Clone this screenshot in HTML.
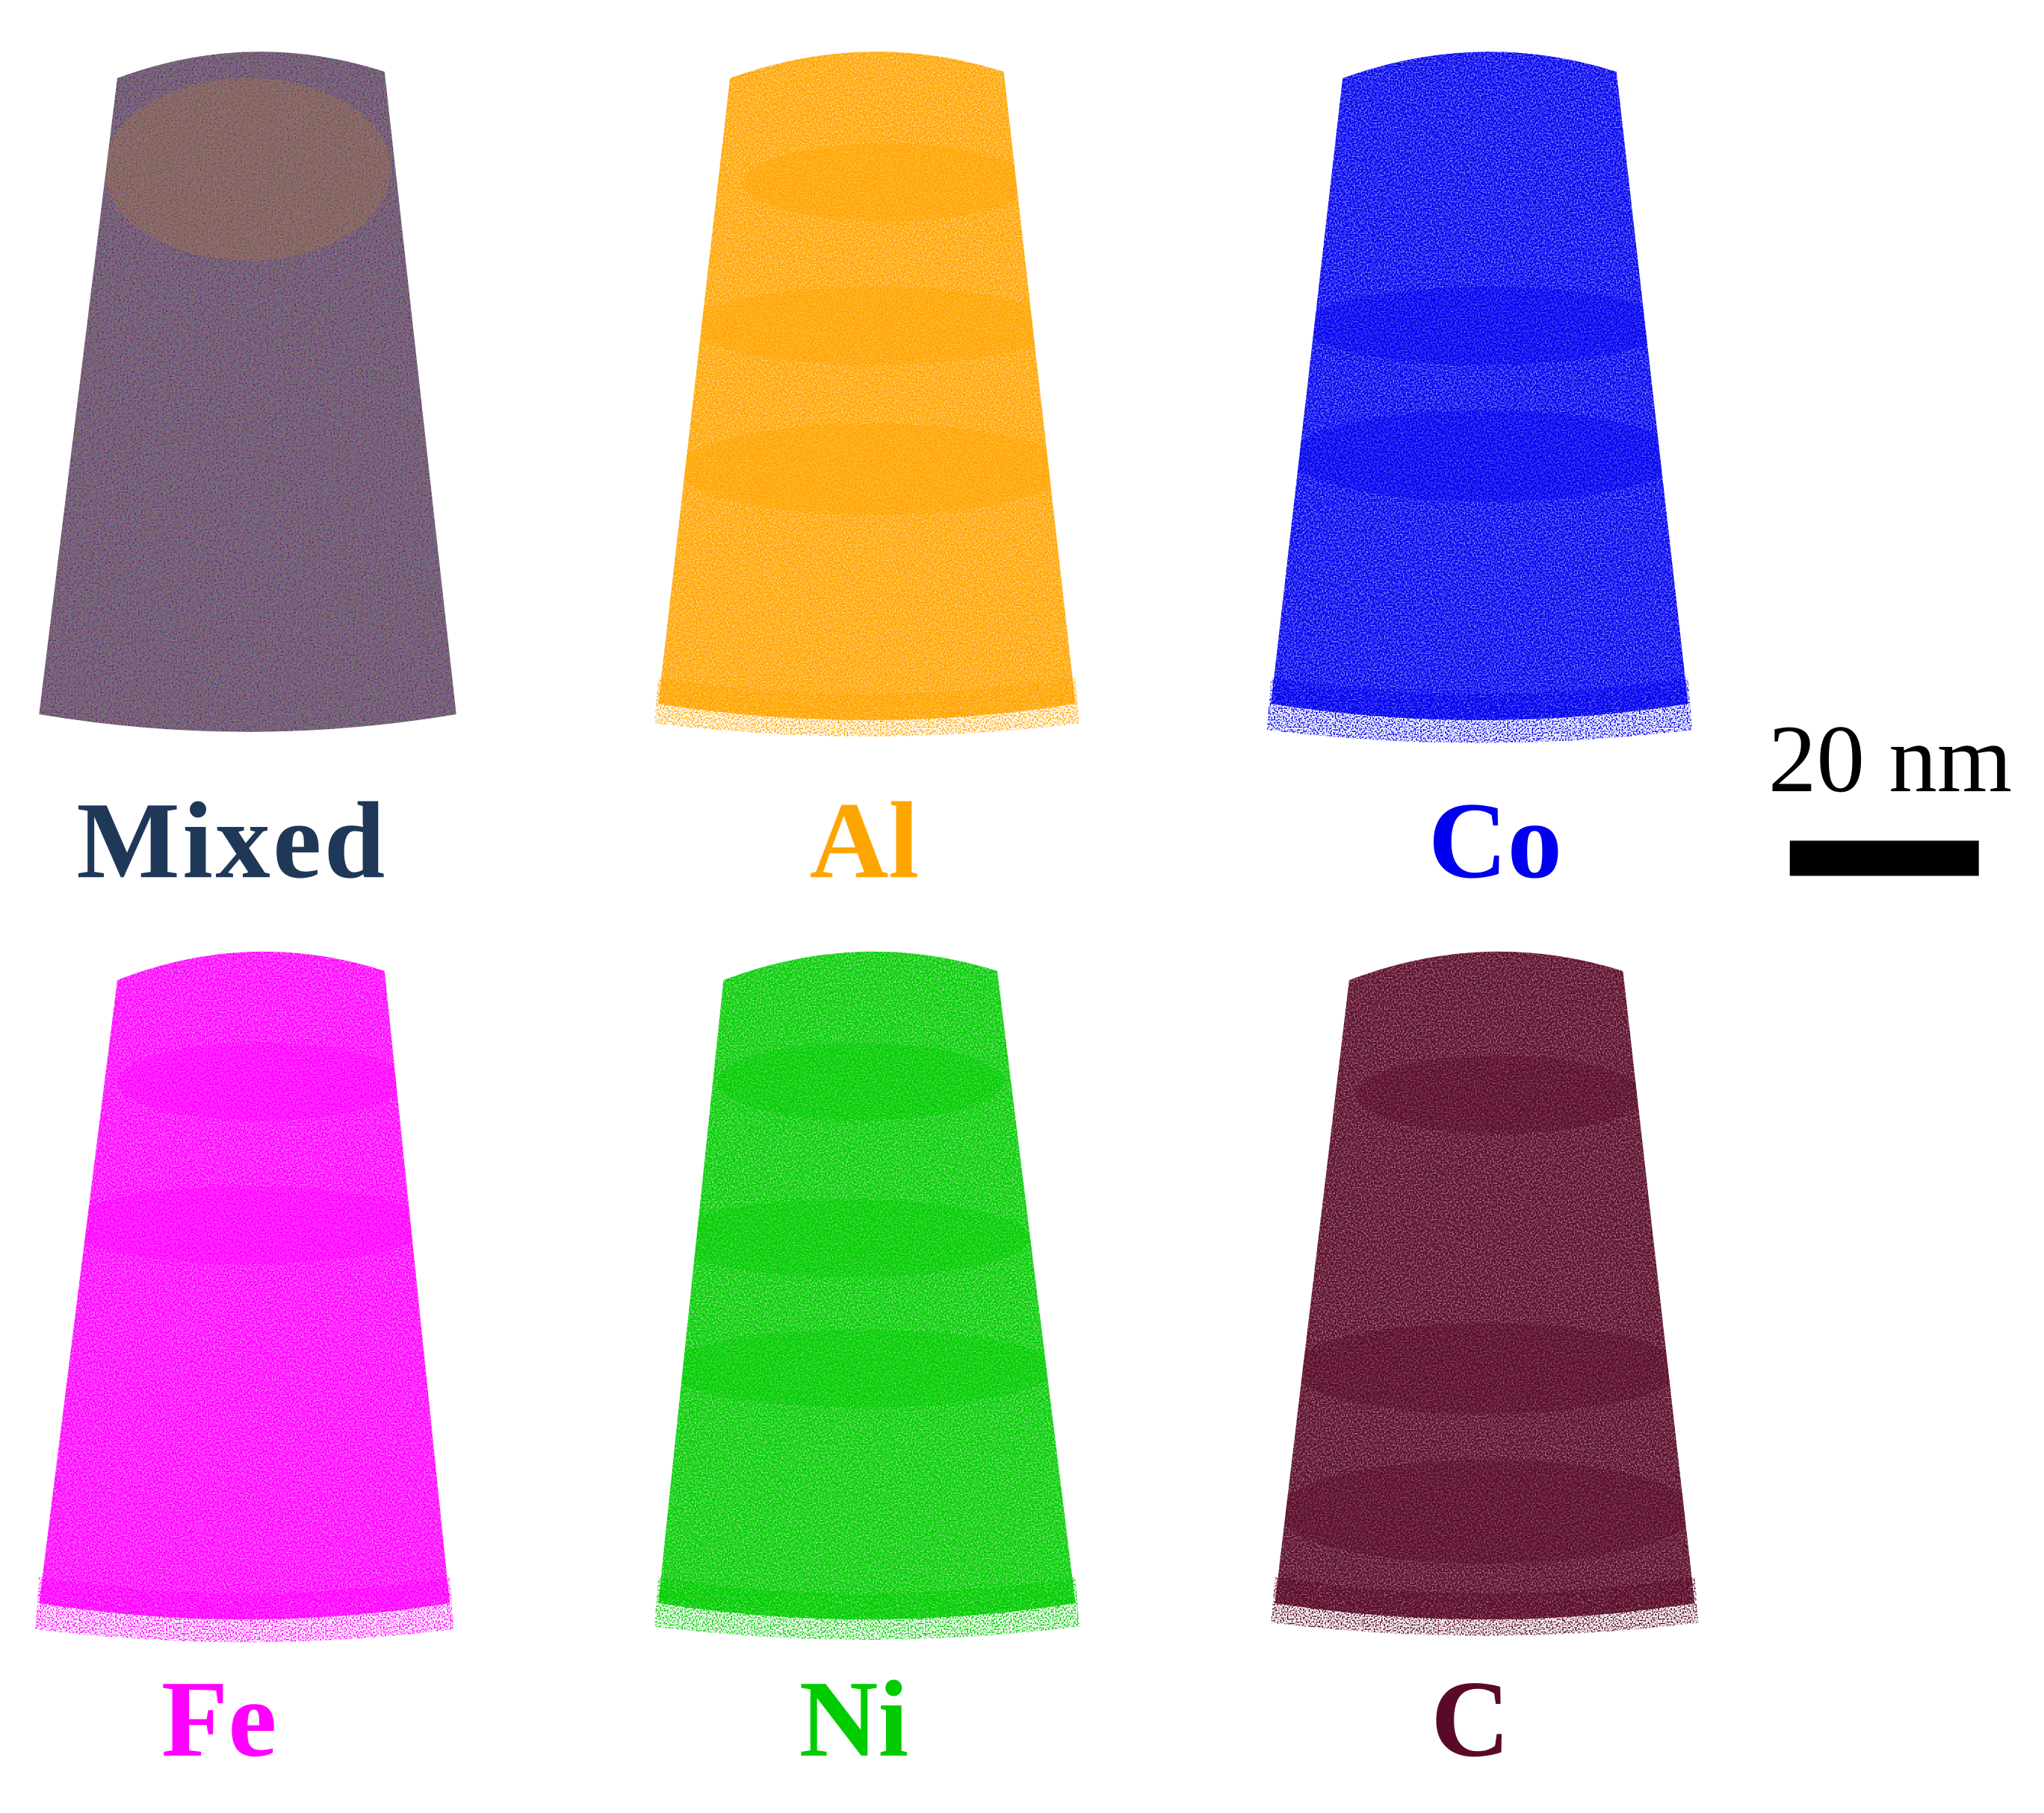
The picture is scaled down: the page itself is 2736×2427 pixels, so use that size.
<!DOCTYPE html>
<html><head><meta charset="utf-8"><style>
html,body{margin:0;padding:0;background:#fff;width:2736px;height:2427px;overflow:hidden}
svg{display:block}
text{font-family:"Liberation Serif","Times New Roman",serif;font-weight:bold}
</style></head><body>
<svg width="2736" height="2427" viewBox="0 0 1568 1391" preserveAspectRatio="none" xmlns="http://www.w3.org/2000/svg">
<defs>
<filter id="speck" x="-5%" y="-5%" width="110%" height="110%">
<feTurbulence type="fractalNoise" baseFrequency="0.9" numOctaves="1" seed="3" result="n"/>
<feColorMatrix in="n" type="matrix" values="0 0 0 0 0  0 0 0 0 0  0 0 0 0 0  0 0 0 -3.2 2.35" result="a"/>
<feComposite in="SourceGraphic" in2="a" operator="in"/>
</filter>
<filter id="sparse" x="-5%" y="-5%" width="110%" height="110%">
<feTurbulence type="fractalNoise" baseFrequency="0.9" numOctaves="1" seed="5" result="n"/>
<feColorMatrix in="n" type="matrix" values="0 0 0 0 0  0 0 0 0 0  0 0 0 0 0  0 0 0 -6 3.2" result="a"/>
<feComposite in="SourceGraphic" in2="a" operator="in"/>
</filter>
<filter id="mixnoise" x="-5%" y="-5%" width="110%" height="110%">
<feTurbulence type="fractalNoise" baseFrequency="0.8" numOctaves="1" seed="7"/>
<feColorMatrix type="matrix" values="2.4 0 0 0 -0.6  0 2.4 0 0 -0.7  0 0 2.4 0 -0.6  0 0 0 0 0.35"/>
<feComposite in2="SourceGraphic" operator="in"/>
</filter>
<clipPath id="cMix"><path d="M90,60 Q192,22 295,55 L350,548 Q190,575 30,548 Z"/></clipPath>
<clipPath id="cAl"><path d="M560,60 Q665,22 770,55 L825,540 Q665,565 505,540 Z"/></clipPath>
<clipPath id="cCo"><path d="M1030,60 Q1135,22 1240,55 L1295,540 Q1135,565 975,540 Z"/></clipPath>
<clipPath id="cFe"><path d="M90,752 Q192,712 295,745 L345,1230 Q188,1255 30,1230 Z"/></clipPath>
<clipPath id="cNi"><path d="M555,752 Q660,712 765,745 L825,1230 Q665,1255 505,1230 Z"/></clipPath>
<clipPath id="cC"><path d="M1035,752 Q1140,712 1245,745 L1300,1230 Q1140,1255 978,1230 Z"/></clipPath>
</defs>

<!-- Mixed -->
<g>
<path d="M90,60 Q192,22 295,55 L350,548 Q190,575 30,548 Z" fill="#4b3350"/>
<path d="M90,60 Q192,22 295,55 L350,548 Q190,575 30,548 Z" fill="#c08a40" filter="url(#mixnoise)"/>
<g clip-path="url(#cMix)">
<ellipse cx="190" cy="130" rx="110" ry="70" fill="#b07a3a" opacity="0.3"/>
</g>
</g>
<text x="178" y="673" font-size="84" letter-spacing="2" text-anchor="middle" fill="#1f3858">Mixed</text>

<!-- Al -->
<g>
<path d="M560,60 Q665,22 770,55 L825,540 Q665,565 505,540 Z" fill="#ffa500" filter="url(#speck)"/>
<path d="M560,60 Q665,22 770,55 L825,540 Q665,565 505,540 Z" fill="#ffa500" opacity="0.45"/>
<path d="M505,520 Q665,545 825,520 L828,555 Q665,575 502,555 Z" fill="#ffa500" filter="url(#sparse)"/>
<g clip-path="url(#cAl)">
<ellipse cx="680" cy="140" rx="110" ry="30" fill="#ffa500" opacity="0.4"/>
<ellipse cx="670" cy="250" rx="140" ry="30" fill="#ffa500" opacity="0.4"/>
<ellipse cx="670" cy="360" rx="150" ry="35" fill="#ffa500" opacity="0.4"/>
</g>
</g>
<text x="663" y="673" font-size="84" text-anchor="middle" fill="#ffa500">Al</text>

<!-- Co -->
<g>
<path d="M1030,60 Q1135,22 1240,55 L1295,540 Q1135,565 975,540 Z" fill="#0000f0" filter="url(#speck)"/>
<path d="M1030,60 Q1135,22 1240,55 L1295,540 Q1135,565 975,540 Z" fill="#0000f0" opacity="0.45"/>
<path d="M975,520 Q1135,545 1295,520 L1298,560 Q1135,580 972,560 Z" fill="#0000f0" filter="url(#sparse)"/>
<g clip-path="url(#cCo)">
<ellipse cx="1140" cy="250" rx="140" ry="30" fill="#0000f0" opacity="0.35"/>
<ellipse cx="1140" cy="350" rx="150" ry="35" fill="#0000f0" opacity="0.35"/>
</g>
</g>
<text x="1147" y="673" font-size="84" text-anchor="middle" fill="#0000ee">Co</text>

<!-- Scale bar -->
<text x="1450" y="607" font-size="74" style="font-weight:normal" text-anchor="middle" fill="#000">20 nm</text>
<rect x="1373" y="645" width="145" height="27" fill="#000"/>

<!-- Fe -->
<g>
<path d="M90,752 Q192,712 295,745 L345,1230 Q188,1255 30,1230 Z" fill="#ff00ff" filter="url(#speck)"/>
<path d="M90,752 Q192,712 295,745 L345,1230 Q188,1255 30,1230 Z" fill="#ff00ff" opacity="0.45"/>
<path d="M30,1210 Q188,1235 345,1210 L348,1250 Q188,1270 27,1250 Z" fill="#ff00ff" filter="url(#sparse)"/>
<g clip-path="url(#cFe)">
<ellipse cx="200" cy="830" rx="110" ry="30" fill="#ff00ff" opacity="0.35"/>
<ellipse cx="190" cy="940" rx="140" ry="30" fill="#ff00ff" opacity="0.35"/>
</g>
</g>
<text x="168" y="1347" font-size="84" text-anchor="middle" fill="#ff00ff">Fe</text>

<!-- Ni -->
<g>
<path d="M555,752 Q660,712 765,745 L825,1230 Q665,1255 505,1230 Z" fill="#00cc00" filter="url(#speck)"/>
<path d="M555,752 Q660,712 765,745 L825,1230 Q665,1255 505,1230 Z" fill="#00cc00" opacity="0.45"/>
<path d="M505,1210 Q665,1235 825,1210 L828,1248 Q665,1268 502,1248 Z" fill="#00cc00" filter="url(#sparse)"/>
<g clip-path="url(#cNi)">
<ellipse cx="660" cy="830" rx="110" ry="30" fill="#00cc00" opacity="0.35"/>
<ellipse cx="650" cy="950" rx="140" ry="30" fill="#00cc00" opacity="0.35"/>
<ellipse cx="660" cy="1050" rx="150" ry="30" fill="#00cc00" opacity="0.35"/>
</g>
</g>
<text x="655" y="1347" font-size="84" text-anchor="middle" fill="#00cc00">Ni</text>

<!-- C -->
<g>
<path d="M1035,752 Q1140,712 1245,745 L1300,1230 Q1140,1255 978,1230 Z" fill="#5a0a28" filter="url(#speck)"/>
<path d="M1035,752 Q1140,712 1245,745 L1300,1230 Q1140,1255 978,1230 Z" fill="#5a0a28" opacity="0.55"/>
<path d="M978,1210 Q1140,1235 1300,1210 L1303,1245 Q1140,1265 975,1245 Z" fill="#5a0a28" filter="url(#sparse)"/>
<g clip-path="url(#cC)">
<ellipse cx="1150" cy="840" rx="110" ry="30" fill="#5a0a28" opacity="0.35"/>
<ellipse cx="1140" cy="1050" rx="150" ry="35" fill="#5a0a28" opacity="0.35"/>
<ellipse cx="1140" cy="1160" rx="160" ry="40" fill="#5a0a28" opacity="0.35"/>
</g>
</g>
<text x="1128" y="1347" font-size="84" text-anchor="middle" fill="#5a0a28">C</text>
</svg>
</body></html>
